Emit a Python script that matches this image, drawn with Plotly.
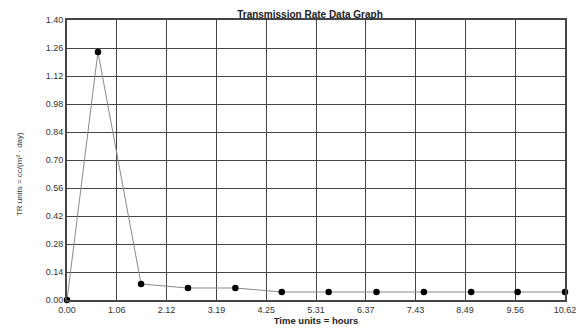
import plotly.graph_objects as go

time_hours = [0.0, 0.66, 1.58, 2.58, 3.59, 4.58, 5.58, 6.60, 7.61, 8.62, 9.61, 10.62]
tr_values = [0.0, 1.24, 0.08, 0.06, 0.06, 0.04, 0.04, 0.04, 0.04, 0.04, 0.04, 0.04]

x_tick_labels = ["0.00", "1.06", "2.12", "3.19", "4.25", "5.31", "6.37", "7.43", "8.49", "9.56", "10.62"]
y_tick_labels = ["0.00", "0.14", "0.28", "0.42", "0.56", "0.70", "0.84", "0.98", "1.12", "1.26", "1.40"]

font_family = "Liberation Sans, Arial, sans-serif"

fig = go.Figure()
fig.add_trace(go.Scatter(
    x=time_hours, y=tr_values, mode="lines+markers",
    line=dict(color="#8a8a8a", width=1),
    marker=dict(color="black", size=6.5),
    cliponaxis=False, showlegend=False,
))

grid_color = "#444444"
fig.update_xaxes(
    range=[0, 10.62], tickvals=[float(v) for v in x_tick_labels], ticktext=x_tick_labels,
    showgrid=True, gridcolor=grid_color, gridwidth=1.4,
    showline=True, linecolor=grid_color, linewidth=1.6, mirror=True,
    zeroline=False, ticks="", ticklen=0,
    tickfont=dict(family=font_family, size=9, color="#333"),
    title=dict(text="<b>Time units = hours</b>", font=dict(family=font_family, size=9.5, color="#222"), standoff=2),
)
fig.update_yaxes(
    range=[0, 1.40], tickvals=[float(v) for v in y_tick_labels], ticktext=y_tick_labels,
    showgrid=True, gridcolor=grid_color, gridwidth=1.4,
    showline=True, linecolor=grid_color, linewidth=1.6, mirror=True,
    zeroline=False, ticks="", ticklen=0,
    tickfont=dict(family=font_family, size=9, color="#333"),
)

fig.update_layout(
    width=587, height=334,
    margin=dict(l=67, r=11, t=20, b=27),
    paper_bgcolor="white", plot_bgcolor="white",
    title=dict(text="<b>Transmission Rate Data Graph</b>", x=310 / 587, xanchor="center",
               y=1 - 14 / 334, yanchor="middle",
               font=dict(family=font_family, size=10, color="#222")),
    annotations=[dict(
        text="TR units = cc/(m² · day)", textangle=-90, xref="paper", yref="paper",
        x=-49 / 509, xanchor="center", y=0.45, yanchor="middle", showarrow=False,
        font=dict(family=font_family, size=8, color="#333"),
    )],
)

fig.write_html("out.html")
